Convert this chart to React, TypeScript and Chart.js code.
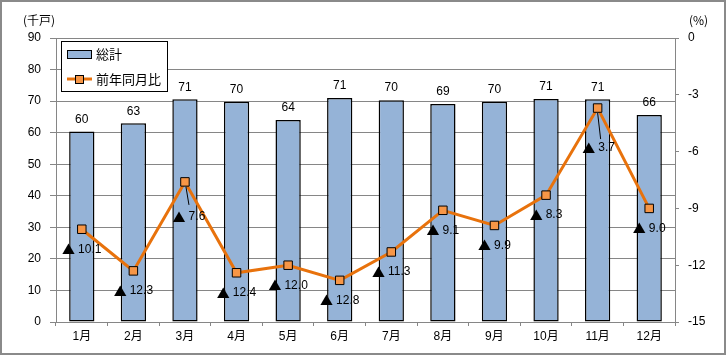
import React, { useEffect, useRef } from "react";
import { Chart, registerables } from "chart.js";

Chart.register(...registerables);

const months = ["1月", "2月", "3月", "4月", "5月", "6月", "7月", "8月", "9月", "10月", "11月", "12月"];
const totals = [60.4, 63.0, 70.6, 69.8, 64.0, 71.0, 70.3, 69.1, 69.8, 70.7, 70.6, 65.6];
const yoy = [-10.1, -12.3, -7.6, -12.4, -12.0, -12.8, -11.3, -9.1, -9.9, -8.3, -3.7, -9.0];
const leftTicks = { min: 0, max: 90, step: 10 };
const rightTicks = { min: -15, max: 0, step: 3 };
const seriesNames = ["総計", "前年同月比"];
const unitLeft = "(千戸)";
const unitRight = "(%)";

const FONT = "'Liberation Sans', 'Noto Sans CJK JP', sans-serif";
const CJK = "'Noto Sans CJK JP', sans-serif";
const GRID = "#868686";
const BAR_FILL = "#95b3d7";
const LINE = "#e8720c";
const MARK = "#f79646";

const decorPlugin = {
  id: "decor",
  beforeDraw(chart: any) {
    const ctx = chart.ctx;
    ctx.save();
    ctx.fillStyle = "#fff";
    ctx.fillRect(0, 0, chart.width, chart.height);
    ctx.restore();
  },
  afterDraw(chart: any) {
    const ctx = chart.ctx;
    ctx.save();
    // outer border
    ctx.strokeStyle = "#8a8a8a";
    ctx.lineWidth = 2;
    ctx.strokeRect(1, 1, 724, 353);

    // unit titles
    ctx.fillStyle = "#000";
    ctx.font = `12px ${CJK}`;
    ctx.textBaseline = "middle";
    ctx.textAlign = "left";
    ctx.fillText(unitLeft, 23, 20);
    ctx.fillText(unitRight, 689, 20);

    // bar value labels
    const barMeta = chart.getDatasetMeta(0);
    ctx.font = `12px ${FONT}`;
    ctx.textAlign = "center";
    barMeta.data.forEach((el: any, i: number) => {
      ctx.fillText(String(Math.round(totals[i])), el.x, el.y - 12);
    });

    // line value labels
    const lineMeta = chart.getDatasetMeta(1);
    const special: Record<number, { dx: number; dy: number; lead: number[] }> = {
      2: { dx: 4, dy: 35, lead: [1, 5, 4, 23] },
      10: { dx: 1, dy: 40, lead: [0, 5, 3, 31] },
    };
    lineMeta.data.forEach((el: any, i: number) => {
      const sp = special[i];
      const dx = sp ? sp.dx : 0;
      const dy = sp ? sp.dy : 20;
      if (sp) {
        ctx.strokeStyle = "#000";
        ctx.lineWidth = 1;
        ctx.beginPath();
        ctx.moveTo(el.x + sp.lead[0], el.y + sp.lead[1]);
        ctx.lineTo(el.x + sp.lead[2], el.y + sp.lead[3]);
        ctx.stroke();
      }
      const tri = "▲";
      const num = Math.abs(yoy[i]).toFixed(1);
      ctx.font = `13px ${CJK}`;
      const tw = ctx.measureText(tri).width;
      ctx.font = `12px ${FONT}`;
      const nw = ctx.measureText(num).width;
      const gap = 3;
      const total = tw + gap + nw;
      const x0 = el.x + dx - total / 2;
      const y0 = el.y + dy;
      ctx.textAlign = "left";
      ctx.fillStyle = "#000";
      ctx.font = `13px ${CJK}`;
      ctx.fillText(tri, x0, y0);
      ctx.font = `12px ${FONT}`;
      ctx.fillText(num, x0 + tw + gap, y0);
    });

    // legend
    ctx.fillStyle = "#fff";
    ctx.fillRect(61, 41, 106, 50);
    ctx.strokeStyle = "#000";
    ctx.lineWidth = 1;
    ctx.strokeRect(61.5, 41.5, 106, 50);
    ctx.fillStyle = BAR_FILL;
    ctx.fillRect(67.5, 50.5, 24, 8);
    ctx.strokeRect(67.5, 50.5, 24, 8);
    ctx.strokeStyle = LINE;
    ctx.lineWidth = 3;
    ctx.beginPath();
    ctx.moveTo(67, 79);
    ctx.lineTo(92, 79);
    ctx.stroke();
    ctx.fillStyle = MARK;
    ctx.fillRect(75.5, 75.5, 8, 8);
    ctx.strokeStyle = "#000";
    ctx.lineWidth = 1;
    ctx.strokeRect(75.5, 75.5, 8, 8);
    ctx.fillStyle = "#000";
    ctx.font = `13px ${CJK}`;
    ctx.textAlign = "left";
    ctx.textBaseline = "middle";
    ctx.fillText(seriesNames[0], 96, 54);
    ctx.fillText(seriesNames[1], 96, 79);
    ctx.restore();
  },
};

export default function App() {
  const ref = useRef<HTMLCanvasElement | null>(null);
  useEffect(() => {
    document.body.style.margin = "0";
    if (!ref.current) return;
    const chart = new Chart(ref.current, {
      type: "bar",
      data: {
        labels: months,
        datasets: [
          {
            type: "bar",
            label: seriesNames[0],
            data: totals,
            yAxisID: "y",
            backgroundColor: BAR_FILL,
            borderColor: "#000",
            borderWidth: 1.5,
            borderSkipped: false,
            barPercentage: 0.49,
            categoryPercentage: 1,
            order: 2,
          } as any,
          {
            type: "line",
            label: seriesNames[1],
            data: yoy,
            yAxisID: "y1",
            borderColor: LINE,
            borderWidth: 3,
            pointStyle: "rect",
            pointRadius: 6,
            pointBackgroundColor: MARK,
            pointBorderColor: "#000",
            pointBorderWidth: 1,
            tension: 0,
            order: 1,
          } as any,
        ],
      },
      options: {
        responsive: false,
        animation: false,
        layout: { padding: { top: 38, left: 0, right: 0, bottom: 0 } },
        plugins: { legend: { display: false }, tooltip: { enabled: false }, title: { display: false } },
        scales: {
          x: {
            offset: true,
            grid: { offset: true, drawOnChartArea: false, tickLength: 4, color: GRID },
            border: { color: GRID },
            ticks: { color: "#000", font: { size: 12, family: FONT }, padding: 3, maxRotation: 0 },
            afterFit: (s: any) => { s.height = 34; },
          },
          y: {
            position: "left",
            min: leftTicks.min,
            max: leftTicks.max,
            ticks: { stepSize: leftTicks.step, color: "#000", font: { size: 12, family: FONT }, padding: 9 },
            grid: { color: GRID, tickLength: 6 },
            border: { color: GRID },
            afterFit: (s: any) => { s.width = 56; },
          },
          y1: {
            position: "right",
            min: rightTicks.min,
            max: rightTicks.max,
            ticks: { stepSize: rightTicks.step, color: "#000", font: { size: 12, family: FONT }, padding: 9 },
            grid: { drawOnChartArea: false, color: GRID, tickLength: 4 },
            border: { color: GRID },
            afterFit: (s: any) => { s.width = 52; },
          },
        },
      } as any,
      plugins: [decorPlugin],
    });
    return () => chart.destroy();
  }, []);
  return <canvas ref={ref} width={727} height={356} style={{ display: "block", width: 727, height: 356 }} />;
}
